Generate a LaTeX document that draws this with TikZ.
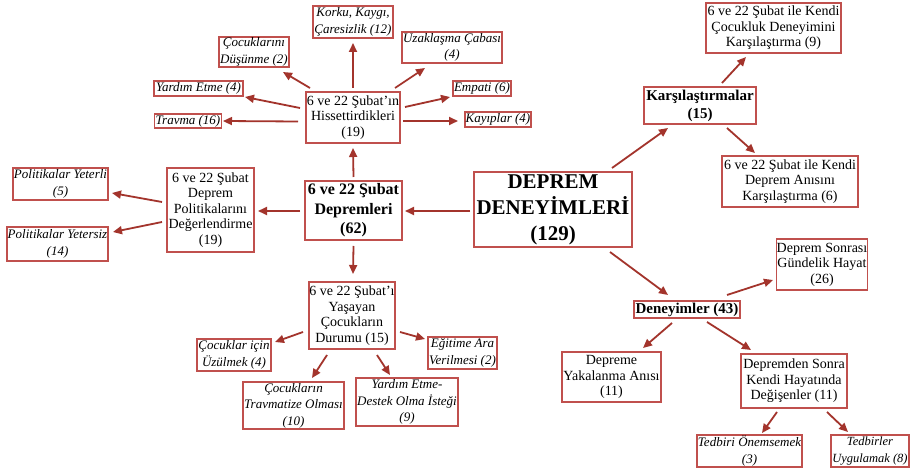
\documentclass[tikz,border=0pt]{standalone}
\usepackage{fontspec}
\setmainfont{Liberation Serif}
\usetikzlibrary{arrows.meta}
\definecolor{boxred}{HTML}{C0504D}
\definecolor{arrred}{HTML}{A3342C}
\tikzset{
  bx/.style 2 args={draw=boxred, line width=1.3pt, fill=white, align=center, inner sep=0.5pt,
     minimum width=#1 pt, minimum height=#2 pt, text=black},
  rg/.style={font=\fontsize{14}{15.5}\selectfont},
  it/.style={font=\fontsize{13}{16.5}\selectfont\itshape},
  bd/.style={font=\fontsize{16}{19.5}\selectfont\bfseries},
  arr/.style={draw=arrred, line width=1.8pt, -{Triangle[length=9pt,width=8pt]}}
}
\newcommand\myarrow[4]{\draw[arr] ([shift={#2}]#1.center) -- ([shift={#4}]#3.center);}
\begin{document}
\begin{tikzpicture}[x=1pt,y=-1pt]
\useasboundingbox[fill=white] (0,0) rectangle (913,473);
% left cluster
\node[bx={80}{32},it] (korku) at (353,22) {Korku, Kaygı,\\Çaresizlik (12)};
\node[bx={70}{30},it] (cocuk) at (254,52) {Çocuklarını\\Düşünme (2)};
\node[bx={100}{31},it] (uzak) at (452,47.5) {Uzaklaşma Çabası\\(4)};
\node[bx={89}{15},it] (yardim) at (198.5,88.5) {Yardım Etme (4)};
\node[bx={58}{15},it] (empati) at (482,88.5) {Empati (6)};
\node[bx={67}{14},it] (travma) at (188,121) {Travma (16)};
\node[bx={66}{15},it] (kayip) at (498,119.5) {Kayıplar (4)};
\node[bx={94}{51},rg] (hiss) at (353,117.5) {6 ve 22 Şubat'ın\\Hissettirdikleri\\(19)};
\node[bx={97}{59},bd] (subat) at (353.5,210.5) {6 ve 22 Şubat\\Depremleri\\(62)};
\node[bx={87}{84},rg] (polit) at (210.5,210) {6 ve 22 Şubat\\Deprem\\Politikalarını\\Değerlendirme\\(19)};
\node[bx={95}{32},it] (yeterli) at (60.5,184) {Politikalar Yeterli\\(5)};
\node[bx={101}{34},it] (yetersiz) at (57.5,244) {Politikalar Yetersiz\\(14)};
\node[bx={86}{67},rg] (yasayan) at (352,315.5) {6 ve 22 Şubat'ı\\Yaşayan\\Çocukların\\Durumu (15)};
\node[bx={74}{32},it] (uzulmek) at (234,355) {Çocuklar için\\Üzülmek (4)};
\node[bx={69}{32},it] (egitim) at (462.5,353) {Eğitime Ara\\Verilmesi (2)};
\node[bx={101}{47},it] (travmatize) at (293.5,405.5) {Çocukların\\Travmatize Olması\\(10)};
\node[bx={102}{48},it] (destek) at (407,402) {Yardım Etme-\\Destek Olma İsteği\\(9)};
% center
\node[bx={158}{75},font=\fontsize{21}{26}\selectfont\bfseries] (deprem) at (553,209.5) {DEPREM\\DENEYİMLERİ\\(129)};
% right cluster
\node[bx={112}{37},font=\fontsize{15}{18}\selectfont\bfseries] (kars) at (700,105.5) {Karşılaştırmalar\\(15)};
\node[bx={135}{50},rg] (kars1) at (773.5,28) {6 ve 22 Şubat ile Kendi\\Çocukluk Deneyimini\\Karşılaştırma (9)};
\node[bx={136}{51},rg] (kars2) at (790,181.5) {6 ve 22 Şubat ile Kendi\\Deprem Anısını\\Karşılaştırma (6)};
\node[bx={106}{17},font=\fontsize{15}{18}\selectfont\bfseries] (deney) at (687,309.5) {Deneyimler (43)};
\node[bx={90}{51},rg] (gundelik) at (822,264.5) {Deprem Sonrası\\Gündelik Hayat\\(26)};
\node[bx={99}{50},rg] (yakalanma) at (611.5,377) {Depreme\\Yakalanma Anısı\\(11)};
\node[bx={106}{54},rg] (degisen) at (794,381) {Depremden Sonra\\Kendi Hayatında\\Değişenler (11)};
\node[bx={105}{32},it] (tedbiri) at (749.5,451) {Tedbiri Önemsemek\\(3)};
\node[bx={78}{32},it,font=\fontsize{12.5}{16.5}\selectfont\itshape] (tedbirler) at (870,451) {Tedbirler\\Uygulamak (8)};
% arrows
\myarrow{hiss}{(0,-29.5)}{korku}{(0,21)}
\myarrow{hiss}{(-43,-29.5)}{cocuk}{(29,20)}
\myarrow{hiss}{(42,-29.5)}{uzak}{(-27,20.5)}
\myarrow{hiss}{(-53,-9.5)}{yardim}{(46.5,8.5)}
\myarrow{hiss}{(52,-10.5)}{empati}{(-32,8.5)}
\myarrow{hiss}{(-55,4)}{travma}{(35,0)}
\myarrow{hiss}{(50,3.5)}{kayip}{(-40,1.5)}
\myarrow{subat}{(0,-33.5)}{hiss}{(0,30.5)}
\myarrow{subat}{(-53.5,0.5)}{polit}{(47.5,1)}
\myarrow{polit}{(-48.5,-8)}{yeterli}{(51.5,9)}
\myarrow{polit}{(-48.5,12)}{yetersiz}{(55.5,-12)}
\myarrow{subat}{(0,35.5)}{yasayan}{(1,-41.5)}
\myarrow{yasayan}{(-49,16.5)}{uzulmek}{(41,-13)}
\myarrow{yasayan}{(48,16.5)}{egitim}{(-37.5,-14)}
\myarrow{yasayan}{(-25,39.5)}{travmatize}{(18.5,-27.5)}
\myarrow{yasayan}{(25,39.5)}{destek}{(-17,-27)}
\myarrow{deprem}{(-83,1.5)}{subat}{(51.5,0.5)}
\myarrow{deprem}{(59,-41.5)}{kars}{(-32,22.5)}
\myarrow{kars}{(22,-22.5)}{kars1}{(-27.5,29)}
\myarrow{kars}{(27,22.5)}{kars2}{(-35,-28.5)}
\myarrow{deprem}{(57,42.5)}{deney}{(-19,-14.5)}
\myarrow{deney}{(40,-14.5)}{gundelik}{(-49,15.5)}
\myarrow{deney}{(-15,13.5)}{yakalanma}{(31.5,-29)}
\myarrow{deney}{(20,12.5)}{degisen}{(-43,-31)}
\myarrow{degisen}{(-17,31)}{tedbiri}{(12.5,-18)}
\myarrow{degisen}{(33,31)}{tedbirler}{(-22,-19)}
\end{tikzpicture}
\end{document}
